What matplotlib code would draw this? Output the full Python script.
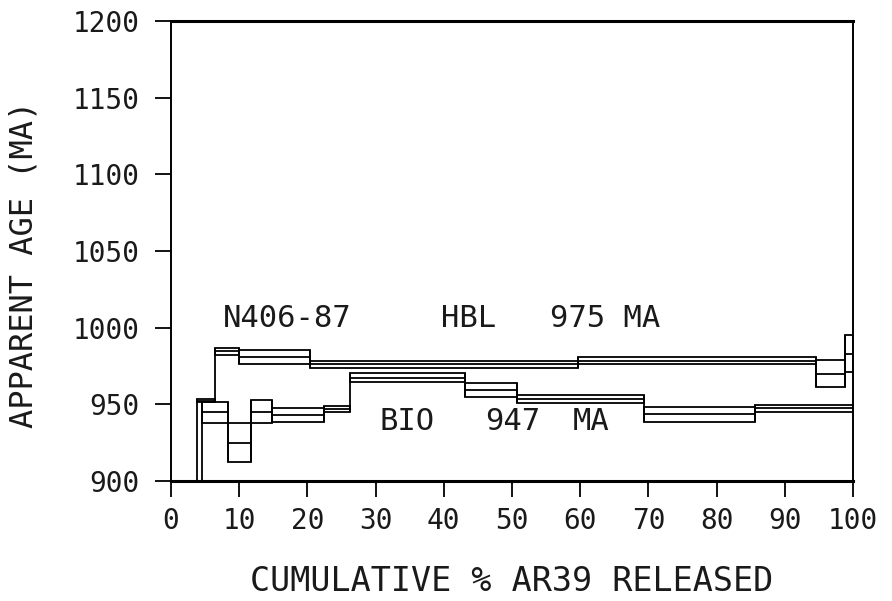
import numpy as np
import matplotlib.pyplot as plt

plt.rcParams['font.family'] = ['DejaVu Sans Mono']

# step heating results: cumulative % 39Ar step edges, apparent age (Ma), half-width of box
hbl_edges = [0, 3.8, 6.5, 9.9, 20.4, 59.7, 94.6, 98.8, 100]
hbl_age = [860, 952.5, 984.5, 981.0, 976.0, 978.5, 970.0, 983.0]
hbl_err = [10, 1.0, 2.3, 4.4, 2.3, 2.3, 8.7, 12.0]

bio_edges = [0, 4.6, 8.4, 11.7, 14.8, 22.4, 26.2, 43.1, 50.7, 69.3, 85.6, 100]
bio_age = [860, 944.7, 925.0, 945.2, 943.0, 947.0, 967.5, 959.5, 953.5, 943.4, 947.4]
bio_err = [10, 6.8, 12.5, 7.6, 4.4, 1.9, 2.8, 4.5, 2.5, 4.7, 2.2]

xticks = np.arange(0, 101, 10)
yticks = np.arange(900, 1201, 50)

lw = 1.3
txt_color = '#1a1a1a'


def spectrum(ax, edges, age, err):
    edges = np.array(edges)
    age = np.array(age)
    err = np.array(err)
    left = edges[:-1]
    ax.bar(left, 2 * err, width=np.diff(edges), bottom=age - err, align='edge',
           fill=False, edgecolor='k', linewidth=lw)
    ax.hlines(age, left, edges[1:], color='k', lw=lw)
    lo = np.minimum(age[:-1] - err[:-1], age[1:] - err[1:])
    hi = np.maximum(age[:-1] + err[:-1], age[1:] + err[1:])
    ax.vlines(edges[1:-1], lo, hi, color='k', lw=lw)


fig = plt.figure(figsize=(8.92, 6.01), dpi=100)
ax = fig.add_axes([171 / 892, 120 / 601, (853 - 171) / 892, 460 / 601])

spectrum(ax, hbl_edges, hbl_age, hbl_err)
spectrum(ax, bio_edges, bio_age, bio_err)

ax.set_xlim(0, 100)
ax.set_ylim(900, 1200)
ax.set_xticks(xticks)
ax.set_yticks(yticks)
ax.tick_params(direction='out', length=11.5, width=lw, labelsize=20,
               color='k', labelcolor=txt_color)
ax.tick_params(axis='x', pad=7)
ax.tick_params(axis='y', pad=11)

for s in ['top', 'bottom']:
    ax.spines[s].set_linewidth(2.2)
for s in ['left', 'right']:
    ax.spines[s].set_linewidth(1.4)
    ax.spines[s].set_linestyle((0, (2, 1)))

ax.set_xlabel('CUMULATIVE % AR39 RELEASED', fontsize=24, labelpad=22, color=txt_color)
ax.set_ylabel('APPARENT AGE (MA)', fontsize=23, color=txt_color)
ax.yaxis.set_label_coords(-0.193, 0.47)

ax.text(7.6, 1006, 'N406-87', fontsize=22, va='center', color=txt_color)
ax.text(39.6, 1006, 'HBL', fontsize=22, va='center', color=txt_color)
ax.text(55.6, 1006, '975 MA', fontsize=22, va='center', color=txt_color)
ax.text(30.5, 938.7, 'BIO', fontsize=22, va='center', color=txt_color)
ax.text(46.0, 938.7, '947', fontsize=22, va='center', color=txt_color)
ax.text(58.9, 938.7, 'MA', fontsize=22, va='center', color=txt_color)

fig.savefig('out.png', dpi=100)
